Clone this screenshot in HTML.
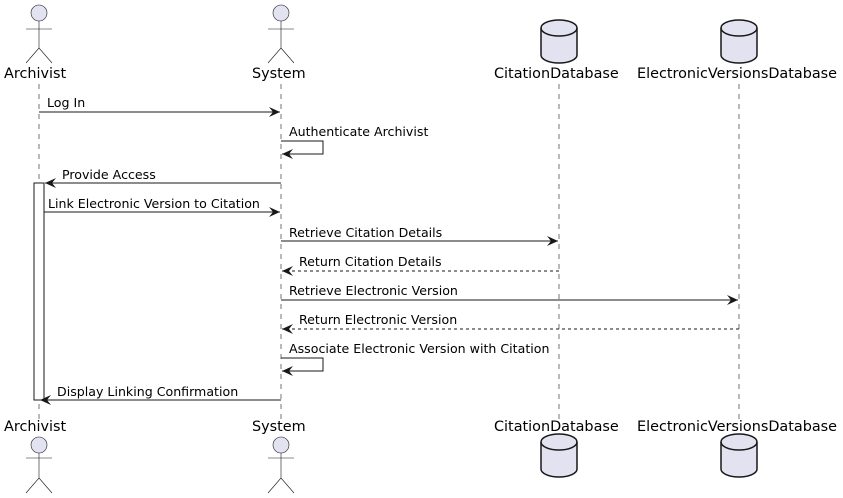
<!DOCTYPE html>
<html><head><style>html,body{margin:0;padding:0;background:#fff}svg{display:block}text{font-family:"DejaVu Sans","Liberation Sans",sans-serif;fill:#000}</style></head><body>
<svg width="843" height="498" viewBox="0 0 843 498" xmlns="http://www.w3.org/2000/svg">
<defs>
<marker id="a" markerWidth="12" markerHeight="10" refX="11" refY="5" orient="auto" markerUnits="userSpaceOnUse"><path d="M0,0 L11,5 L0,10 L4,5 Z" fill="#181818"/></marker>
</defs>
<g stroke="#181818" stroke-width="0.6" stroke-dasharray="5,5">
<line x1="39" y1="84" x2="39" y2="420"/><line x1="281" y1="84" x2="281" y2="420"/><line x1="559" y1="84" x2="559" y2="420"/><line x1="739" y1="84" x2="739" y2="420"/>
</g>
<rect x="34" y="183" width="10" height="217" fill="#fff" stroke="#181818"/>
<g id="actors" stroke="#181818" stroke-width="0.6" fill="#E2E2F0">
<circle cx="39" cy="13" r="8"/><path d="M39,21V48M26,29H52M26,63L39,48L52,63" fill="none"/>
<circle cx="281" cy="13" r="8"/><path d="M281,21V48M268,29H294M268,63L281,48L294,63" fill="none"/>
<circle cx="39" cy="445" r="8"/><path d="M39,453V478M26,458H52M26,493L39,478L52,493" fill="none"/>
<circle cx="281" cy="445" r="8"/><path d="M281,453V478M268,458H294M268,493L281,478L294,493" fill="none"/>
</g>
<g stroke="#181818" stroke-width="1.5" fill="#E2E2F0">
<path d="M541,28 A18,8 0 0 1 577,28 V55 A18,8 0 0 1 541,55 Z"/><path d="M541,28 A18,8 0 0 0 577,28" fill="none"/>
<path d="M721,28 A18,8 0 0 1 757,28 V55 A18,8 0 0 1 721,55 Z"/><path d="M721,28 A18,8 0 0 0 757,28" fill="none"/>
<path d="M541,442 A18,8 0 0 1 577,442 V469 A18,8 0 0 1 541,469 Z"/><path d="M541,442 A18,8 0 0 0 577,442" fill="none"/>
<path d="M721,442 A18,8 0 0 1 757,442 V469 A18,8 0 0 1 721,469 Z"/><path d="M721,442 A18,8 0 0 0 757,442" fill="none"/>
</g>
<g font-size="14.4">
<text x="4" y="78">Archivist</text><text x="252" y="78">System</text><text x="494" y="78">CitationDatabase</text><text x="637" y="78">ElectronicVersionsDatabase</text>
<text x="4" y="431">Archivist</text><text x="252" y="431">System</text><text x="494" y="431">CitationDatabase</text><text x="637" y="431">ElectronicVersionsDatabase</text>
</g>
<g stroke="#181818" stroke-width="1" fill="none" marker-end="url(#a)">
<line x1="39" y1="112" x2="280" y2="112"/>
<path d="M281,141H323V154H282"/>
<line x1="281" y1="183" x2="45" y2="183"/>
<line x1="44" y1="212" x2="280" y2="212"/>
<line x1="281" y1="241" x2="558" y2="241"/>
<line x1="559" y1="271" x2="282" y2="271" stroke-dasharray="3,3"/>
<line x1="281" y1="300" x2="738" y2="300"/>
<line x1="739" y1="329" x2="282" y2="329" stroke-dasharray="3,3"/>
<path d="M281,358H323V371H282"/>
<line x1="281" y1="400" x2="40" y2="400"/>
</g>
<g font-size="12.6">
<text x="47" y="107">Log In</text>
<text x="289" y="136">Authenticate Archivist</text>
<text x="62" y="179">Provide Access</text>
<text x="48" y="208">Link Electronic Version to Citation</text>
<text x="289" y="237">Retrieve Citation Details</text>
<text x="299" y="266">Return Citation Details</text>
<text x="289" y="295">Retrieve Electronic Version</text>
<text x="299" y="324">Return Electronic Version</text>
<text x="289" y="353">Associate Electronic Version with Citation</text>
<text x="57" y="396">Display Linking Confirmation</text>
</g>
</svg>
</body></html>
